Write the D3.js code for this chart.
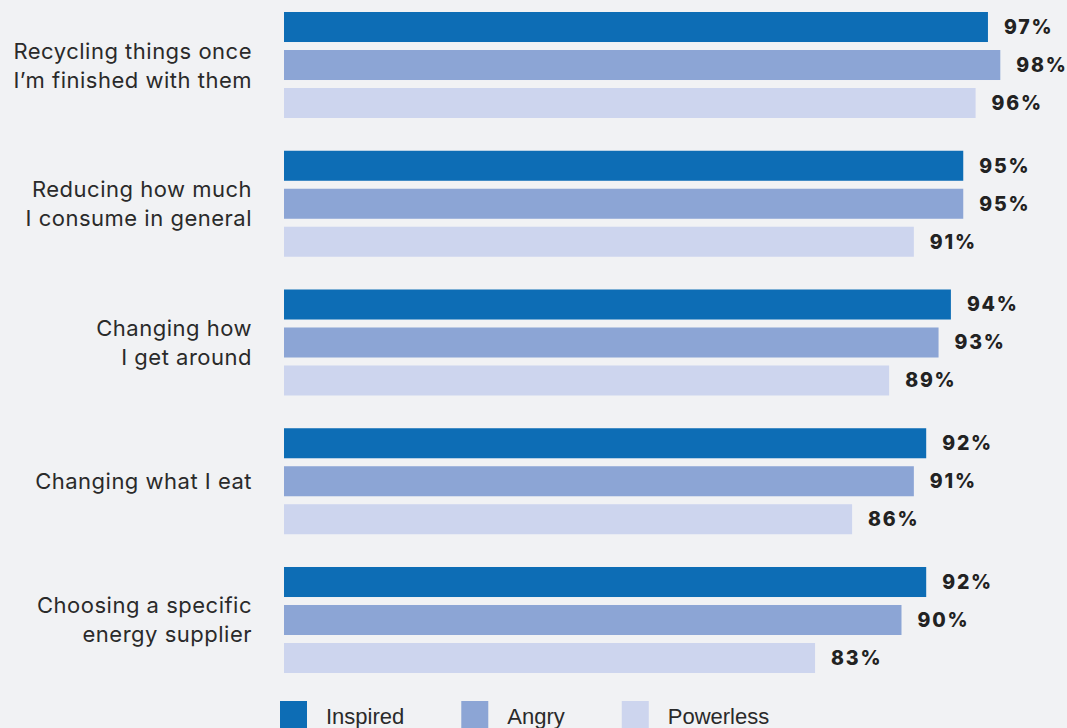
<!DOCTYPE html>
<html>
<head>
<meta charset="utf-8">
<script src="https://cdn.jsdelivr.net/npm/d3@7"></script>
<style>
body { margin: 0; background: #f1f2f4; }
svg { display: block; }
.cat { font-family: "Inter", "Noto Sans", sans-serif; font-size: 22px; fill: #2a2a2a; letter-spacing: 0.5px; }
.val { font-family: "Inter", "Noto Sans", sans-serif; font-size: 19.5px; font-weight: 800; fill: #222; letter-spacing: 1.8px; }
.leg { font-family: "Liberation Sans", Arial, sans-serif; font-size: 22px; fill: #2a2a2a; }
</style>
</head>
<body>
<script>
// data
var categories = [
  ["Recycling things once", "I\u2019m finished with them"],
  ["Reducing how much", "I consume in general"],
  ["Changing how", "I get around"],
  ["Changing what I eat"],
  ["Choosing a specific", "energy supplier"]
];
var series = ["Inspired", "Angry", "Powerless"];
var inspired  = [97, 95, 94, 92, 92];
var angry     = [98, 95, 93, 91, 90];
var powerless = [96, 91, 89, 86, 83];
var colors = ["#0d6db5", "#8ca5d5", "#cdd5ee"];

var W = 1067, H = 728;
var svg = d3.select("body").append("svg").attr("width", W).attr("height", H);

var rows = categories.map(function(c, i) {
  return { key: i, label: c, vals: [inspired[i], angry[i], powerless[i]] };
});

var x = d3.scaleLinear().domain([40, 100]).range([284, 1025]);
var y0 = d3.scaleBand().domain(d3.range(categories.length)).range([12, 673]).paddingInner(0.236);
var y1 = d3.scaleBand().domain(series).range([0, y0.bandwidth()]).paddingInner(0.21);

var g = svg.selectAll("g.grp").data(rows).enter().append("g")
  .attr("class", "grp")
  .attr("transform", function(d) { return "translate(0," + y0(d.key) + ")"; });

g.selectAll("rect").data(function(d) {
    return d.vals.map(function(v, j) { return { s: series[j], v: v, c: colors[j] }; });
  }).enter().append("rect")
  .attr("x", x(40))
  .attr("y", function(d) { return y1(d.s); })
  .attr("width", function(d) { return x(d.v) - x(40); })
  .attr("height", y1.bandwidth())
  .attr("fill", function(d) { return d.c; });

g.selectAll("text.val").data(function(d) {
    return d.vals.map(function(v, j) { return { s: series[j], v: v }; });
  }).enter().append("text")
  .attr("class", "val")
  .attr("x", function(d) { return x(d.v) + 16; })
  .attr("y", function(d) { return y1(d.s) + y1.bandwidth() / 2; })
  .attr("dy", "0.35em")
  .text(function(d) { return d.v + "%"; });

// category labels
g.append("text")
  .attr("class", "cat")
  .attr("text-anchor", "end")
  .attr("x", 252)
  .attr("y", function(d) { return y0.bandwidth() / 2 - (d.label.length - 1) * 14.5; })
  .selectAll("tspan").data(function(d) { return d.label; }).enter().append("tspan")
  .attr("x", 252)
  .attr("dy", function(t, i) { return i ? 29 : 0; })
  .attr("dominant-baseline", "central")
  .text(function(t) { return t; });

// legend
var lx = 280;
series.forEach(function(s, j) {
  svg.append("rect").attr("x", lx).attr("y", 701).attr("width", 27).attr("height", 30).attr("fill", colors[j]);
  var t = svg.append("text").attr("class", "leg").attr("x", lx + 46).attr("y", 724).text(s);
  lx += 46 + t.node().getComputedTextLength() + 57;
});
</script>
</body>
</html>
